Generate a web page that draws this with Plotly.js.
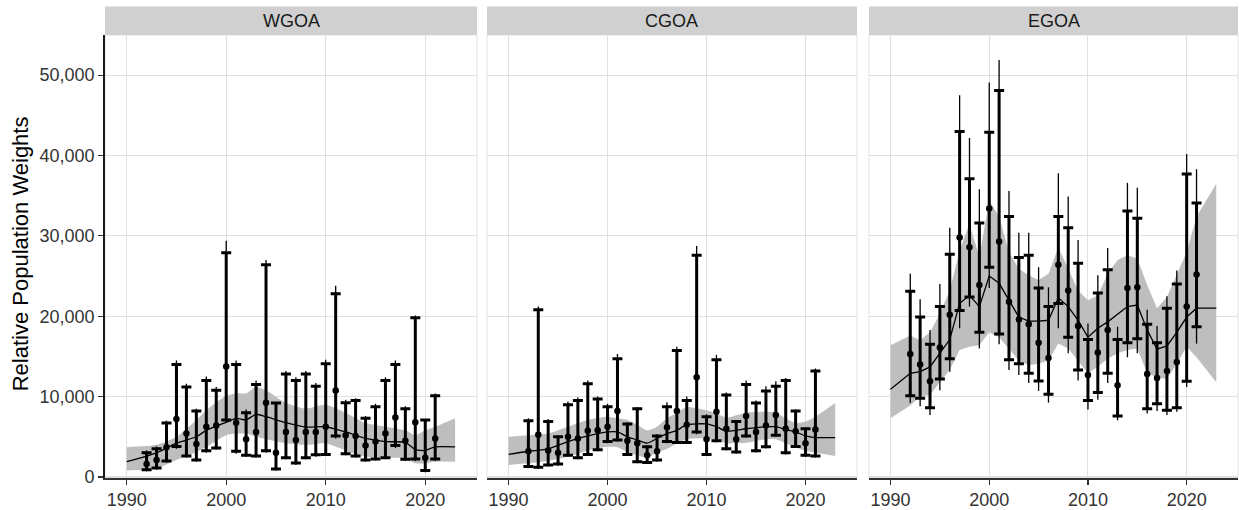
<!DOCTYPE html>
<html>
<head>
<meta charset="utf-8">
<script src="https://cdn.plot.ly/plotly-3.0.1.min.js"></script>
<style>
  html, body { margin: 0; padding: 0; background: #fff; }
  #chart { width: 1239px; height: 510px; }
</style>
</head>
<body>
<div id="chart"></div>
<script>
// ---------- data ----------
const regions = ["WGOA", "CGOA", "EGOA"];
const years = [1992,1993,1994,1995,1996,1997,1998,1999,2000,2001,2002,2003,2004,2005,2006,2007,2008,2009,2010,2011,2012,2013,2014,2015,2016,2017,2018,2019,2020,2021];

// WGOA
const wMid  = [1600,2100,3700,7200,5400,4100,6250,6400,13750,6750,4700,5600,9250,3000,5600,4600,5600,5600,6250,10750,5200,5100,3900,4400,5400,7400,4500,6800,2400,4800];
const wHi   = [3000,3500,6700,14000,11200,8200,12000,10800,27900,14000,8000,11500,26400,9200,12800,12000,12800,11300,14100,22800,9250,9500,7300,8750,12000,14000,8500,19800,7100,10100];
const wLo   = [900,1100,2000,3800,2600,2100,3250,3600,7100,3200,2700,2600,3250,1000,2400,1750,2400,2750,2800,5100,2900,2600,2100,2250,2400,3900,2200,2250,800,2250];
const wHi95 = [3300,3800,7000,14500,11600,8500,12500,11200,29400,14500,8400,12000,27000,9300,13200,12400,13200,11700,14600,23800,9600,9800,7600,9100,12400,14500,8800,20100,7200,10400];
const wLo95 = [700,900,1800,3500,2400,1900,3000,3400,6700,2900,2500,2400,3000,800,2200,1500,2200,2500,2600,4800,2700,2400,1900,2050,2200,3600,2000,2000,600,2000];
const wSmYears = [1990,1993,1995,1997,1998,2000,2001,2002,2003,2004,2006,2008,2010,2012,2014,2016,2018,2019,2020,2021,2023];
const wSmMid   = [1900,3000,4200,5000,5800,6800,7300,7100,7800,7500,6750,6200,6250,5600,4800,4400,4300,3400,3300,3750,3750];
const wSmHi    = [3700,4000,5000,7100,8300,10100,10400,10400,11200,10800,9200,8500,9000,8000,6700,6250,5800,5200,5800,6250,7300];
const wSmLo    = [800,1050,2100,3100,3750,5200,5400,5400,5000,4700,4200,4000,4200,3300,2500,2400,2300,1700,1700,1900,1900];

// CGOA
const cMid  = [3200,5250,3300,3000,5000,4800,5750,5800,6250,8200,4500,4200,2700,3200,6200,8200,6500,12400,4700,8100,6000,4700,7600,5600,6400,7700,6000,5700,4200,5900];
const cHi   = [7000,20800,6900,5000,9000,9500,11600,9700,8750,14700,6600,8500,3750,5100,8750,15750,9500,27600,7500,14600,10200,6900,11500,9200,10700,11300,12000,8200,6000,13200];
const cLo   = [1300,1200,1500,1600,2700,2400,2800,3400,4400,4600,2800,1900,1800,2100,4400,4300,4300,5600,2800,4500,3500,3100,5100,3250,3750,5200,3000,3800,2700,2600];
const cHi95 = [7300,21200,7200,5200,9400,9900,12000,10000,9100,15300,6800,8700,3900,5300,9300,16200,10000,28750,7800,15200,10500,7100,12000,9500,11300,11900,12300,8400,6200,13500];
const cLo95 = [1100,1000,1300,1400,2500,2200,2600,3200,4200,4400,2600,1700,1600,1900,4200,4100,4100,5300,2600,4300,3300,2900,4900,3050,3550,5000,2800,3600,2500,2400];
const cSmYears = [1990,1992,1994,1996,1998,2000,2001,2002,2003,2004,2005,2006,2007,2008,2010,2011,2012,2014,2016,2017,2018,2019,2020,2021,2023];
const cSmMid   = [2800,3200,3500,4400,5100,5600,5600,5000,4600,4200,4800,5400,5800,6500,6600,6250,5700,6000,6250,6250,5900,5600,5100,4900,4900];
const cSmHi    = [5000,5200,5400,6250,7100,7500,7300,7100,6500,5800,6250,7300,8000,8700,8300,7900,7400,8000,8100,8000,7300,6700,6900,7500,9200];
const cSmLo    = [1500,1700,2000,2500,3300,3750,3700,3100,2700,2400,3000,3500,4200,4700,4800,4600,4200,4250,4700,4700,4200,3700,3250,3000,2600];

// EGOA
const eMid  = [15300,14000,11900,16100,20200,29800,28600,23900,33400,29300,21800,19600,19000,16700,14800,26400,23200,18800,12700,15500,18300,11400,23500,23600,12800,12300,13200,14300,21200,25200];
const eHi   = [23100,19900,16500,21200,27700,43000,37100,31600,42900,48100,32400,27300,27600,23500,21200,32400,31000,26600,17100,22900,25800,17100,33100,32200,19000,16700,21000,24000,37700,34100];
const eLo   = [10100,9800,8600,12200,14700,20700,22400,18000,26100,17800,14600,14100,12900,11950,10300,21600,17400,13300,9500,10500,12900,7600,16700,17200,8500,9100,8300,8600,11900,18700];
const eHi95 = [25300,22100,18300,24000,31000,47500,42200,35800,49100,51900,35600,30400,30400,26100,23600,37800,34900,29500,19100,25100,28500,18700,36600,36000,20800,18800,22500,25700,40200,38300];
const eLo95 = [9200,8800,7700,10800,13100,18500,21200,16000,23500,16500,13300,12700,11700,10700,9250,18500,15400,12000,8400,9600,11700,7050,14900,15400,7900,8200,7700,8100,11200,16600];
const eSmYears = [1990,1992,1993,1994,1995,1996,1997,1998,1999,2000,2001,2002,2003,2004,2005,2006,2007,2008,2009,2010,2011,2012,2013,2014,2015,2016,2017,2018,2019,2020,2021,2023];
const eSmMid   = [10900,12900,13100,13700,15400,17100,21600,22600,21200,25000,24100,22000,19900,19400,19400,19500,22300,21200,19500,17400,18500,19300,20300,21200,21400,18300,15900,16300,18000,19900,21000,21000];
const eSmHi    = [16400,17600,17000,18000,20300,23200,28200,31500,27400,34400,32400,28000,25900,25100,24500,25300,28600,25900,23200,22000,22600,25300,27000,27600,27200,23900,21000,22400,25300,28000,32400,36500];
const eSmLo    = [7300,8900,10000,10200,11800,13300,15800,16200,16400,18000,17400,16000,14500,13900,14100,14500,16600,16000,14500,12900,13700,14700,15400,15800,16000,12900,12400,12200,14100,16200,14900,11800];

const yTicks = [0,10000,20000,30000,40000,50000];
const yTickText = ["0","10,000","20,000","30,000","40,000","50,000"];
const xTicks = [1990,2000,2010,2020];
const yTitle = "Relative Population Weights";

// ---------- build ----------
const panels = [
  {mid:wMid, hi:wHi, lo:wLo, hi95:wHi95, lo95:wLo95, sx:wSmYears, sm:wSmMid, sh:wSmHi, sl:wSmLo, shape:"spline"},
  {mid:cMid, hi:cHi, lo:cLo, hi95:cHi95, lo95:cLo95, sx:cSmYears, sm:cSmMid, sh:cSmHi, sl:cSmLo, shape:"spline"},
  {mid:eMid, hi:eHi, lo:eLo, hi95:eHi95, lo95:eLo95, sx:eSmYears, sm:eSmMid, sh:eSmHi, sl:eSmLo, shape:"linear"}
];

const L = 105, R = 1, T = 35, B = 32, W = 1239, H = 510;
const pw = W - L - R, ph = H - T - B;
const px = [[105,477],[487,857],[869,1238]];
const domains = px.map(p => [(p[0]-L)/pw, (p[1]-L)/pw]);

const FONT = '"Liberation Sans", Arial, Helvetica, sans-serif';
const traces = [];
panels.forEach((p, i) => {
  const xa = i === 0 ? "x" : "x" + (i+1);
  const ya = i === 0 ? "y" : "y" + (i+1);
  traces.push({x:p.sx, y:p.sl, xaxis:xa, yaxis:ya, type:"scatter", mode:"lines",
    line:{width:0, shape:p.shape, smoothing:0.6}, hoverinfo:"skip", showlegend:false});
  traces.push({x:p.sx, y:p.sh, xaxis:xa, yaxis:ya, type:"scatter", mode:"lines", fill:"tonexty",
    fillcolor:"#bebebe", line:{width:0, shape:p.shape, smoothing:0.6}, hoverinfo:"skip", showlegend:false});
  traces.push({x:p.sx, y:p.sm, xaxis:xa, yaxis:ya, type:"scatter", mode:"lines",
    line:{width:1.3, color:"#000", shape:p.shape, smoothing:0.6}, showlegend:false});
  traces.push({x:years, y:p.mid, xaxis:xa, yaxis:ya, type:"scatter", mode:"markers",
    marker:{size:1, color:"rgba(0,0,0,0)"},
    error_y:{type:"data", symmetric:false,
      array:p.hi95.map((v,k)=>v-p.mid[k]), arrayminus:p.mid.map((v,k)=>v-p.lo95[k]),
      color:"#000", thickness:1.3, width:0}, showlegend:false});
  traces.push({x:years, y:p.mid, xaxis:xa, yaxis:ya, type:"scatter", mode:"markers",
    marker:{size:6.5, color:"#000"},
    error_y:{type:"data", symmetric:false,
      array:p.hi.map((v,k)=>v-p.mid[k]), arrayminus:p.mid.map((v,k)=>v-p.lo[k]),
      color:"#000", thickness:3, width:5}, showlegend:false});
});

const layout = {
  width:W, height:H,
  margin:{l:L, r:R, t:T, b:B, pad:0},
  paper_bgcolor:"#fff", plot_bgcolor:"rgba(0,0,0,0)",
  font:{family:FONT, size:18, color:"#333"},
  showlegend:false,
  shapes:[], annotations:[]
};
for (let i = 0; i < 3; i++) {
  const xk = i === 0 ? "xaxis" : "xaxis" + (i+1);
  const yk = i === 0 ? "yaxis" : "yaxis" + (i+1);
  const xa = i === 0 ? "x" : "x" + (i+1);
  const ya = i === 0 ? "y" : "y" + (i+1);
  layout[xk] = {domain:domains[i], anchor:ya, range:[1987.82, 2025.2],
    tickvals:xTicks, ticktext:xTicks.map(String), ticks:"outside", ticklen:5, tickwidth:1.2, tickcolor:"#333",
    showgrid:true, gridcolor:"#e0e0e0", gridwidth:1.1, zeroline:false,
    showline:true, linecolor:"#333", linewidth:1.8, tickfont:{size:18, color:"#333"}};
  layout[yk] = {domain:[0,1], anchor:xa, range:[-130, 55000],
    tickvals:yTicks, ticktext:yTickText, ticks:i===0?"outside":"", ticklen:5, tickwidth:1.2, tickcolor:"#333",
    showticklabels:i===0, showgrid:true, gridcolor:"#e0e0e0", gridwidth:1.1, zeroline:false,
    showline:i===0, linecolor:"#1a1a1a", linewidth:1.8, tickfont:{size:18, color:"#333"}};
  if (i > 0) layout[yk].matches = "y";
  // panel border
  layout.shapes.push({type:"rect", xref:"paper", yref:"paper", x0:domains[i][0], x1:domains[i][1], y0:0, y1:1,
    line:{color:"#e3e3e3", width:1}, fillcolor:"rgba(0,0,0,0)", layer:"below"});
  // strip
  layout.shapes.push({type:"rect", xref:"paper", yref:"paper", x0:domains[i][0], x1:domains[i][1],
    y0:1, y1:1 + (T-6.5)/ph, line:{width:0}, fillcolor:"#d0d0d0", layer:"above"});
  layout.annotations.push({text:regions[i], xref:"paper", yref:"paper",
    x:(domains[i][0]+domains[i][1])/2, y:1 + (T-6.5)/(2*ph), xanchor:"center", yanchor:"middle",
    showarrow:false, font:{size:18, color:"#1a1a1a", family:FONT}});
}
layout.annotations.push({text:yTitle, xref:"paper", yref:"paper", x:(20-L)/pw, y:0.505,
  xanchor:"center", yanchor:"middle", textangle:-90, showarrow:false,
  font:{size:22, color:"#000", family:FONT}});

Plotly.newPlot("chart", traces, layout, {displayModeBar:false, staticPlot:true});
</script>
</body>
</html>
